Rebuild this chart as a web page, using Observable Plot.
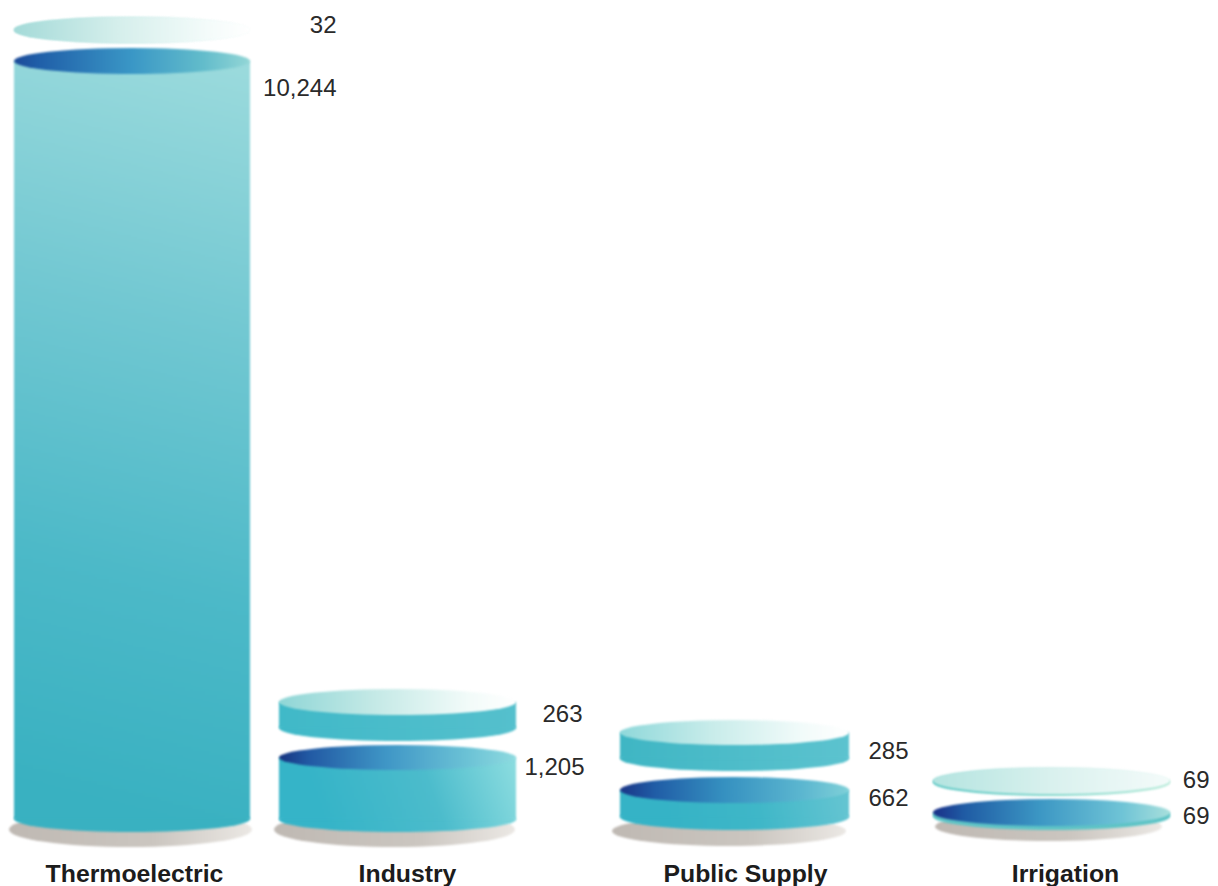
<!DOCTYPE html>
<html>
<head>
<meta charset="utf-8">
<script src="https://cdn.jsdelivr.net/npm/d3@7"></script>
<script src="https://cdn.jsdelivr.net/npm/@observablehq/plot@0.6"></script>
<style>
html,body{margin:0;padding:0;background:#fff}
svg{display:block}
</style>
</head>
<body>
<div id="chart"></div>
<script>
// Values printed on the chart
const categories = ["Thermoelectric", "Industry", "Public Supply", "Irrigation"];
const upperValues = [32, 263, 285, 69];
const lowerValues = [10244, 1205, 662, 69];

// Drawn extents (the original is not to scale)
const xLeft = [14, 279, 620, 933];
const xRight = [250, 516, 849, 1170];
const upperTop = [17, 689, 720, 767];
const upperBottom = [43, 741, 771, 796];
const upperCap = [26, 26, 25, 27];
const lowerTop = [48, 745, 777, 799];
const lowerBottom = [832, 832, 830, 830];
const lowerCap = [26, 25, 26, 27];
const shadowLeft = [9, 274, 612, 935];
const shadowRight = [252, 515, 846, 1162];
const shadowTop = [812, 812, 816, 812];
const shadowBottom = [847, 847, 846, 841];

// Label anchors
const categoryX = [134, 407, 745, 1065];
const categoryY = 874;
const upperLabelX = [336, 582, 908, 1209];
const upperLabelY = [25, 714, 751, 780];
const lowerLabelX = [336, 584, 908, 1209];
const lowerLabelY = [88, 767, 798, 816];

// Gradient stops
const paleStops = [
  [[0, "#a4dad8"], [0.45, "#d6efec"], [0.85, "#f6fcfb"], [1, "#ffffff"]],
  [[0, "#8fd6d6"], [0.4, "#c4e9e6"], [0.8, "#f2fbf9"], [1, "#ffffff"]],
  [[0, "#8fd8da"], [0.4, "#c8ecea"], [0.8, "#f2fbfa"], [1, "#ffffff"]],
  [[0, "#b4e4e0"], [0.5, "#d9f1ee"], [1, "#f4fbfa"]]
];
const lowerCapStops = [
  [[0, "#1c4a98"], [0.1, "#1f5ea8"], [0.5, "#3a97c6"], [0.8, "#62bccb"], [1, "#93d6d6"]],
  [[0, "#16337f"], [0.12, "#2158a3"], [0.45, "#3f96c6"], [0.8, "#6cc3d6"], [1, "#8edadf"]],
  [[0, "#1a3586"], [0.15, "#205ca6"], [0.45, "#3590c0"], [0.8, "#5cb7d0"], [1, "#7fd0d8"]],
  [[0, "#1a2f88"], [0.13, "#1f5ba4"], [0.45, "#3c97c4"], [0.8, "#6fc4d6"], [1, "#a8dfdc"]]
];
const lowerSideStops = [
  [[0, "#9cdbdd"], [0.35, "#72c8d2"], [0.7, "#4cb9c8"], [1, "#39b1c1"]],
  [[0, "#8ddde0"], [0.45, "#4cbccc"], [1, "#35b4c8"]],
  [[0, "#66c5d2"], [0.5, "#3fb7c8"], [1, "#35b3c6"]],
  [[0, "#5ec4c6"], [1, "#5ec4c6"]]
];
const upperSideStops = [
  [[0, "#9adad6"], [1, "#f8fdfc"]],
  [[0, "#40b9c8"], [1, "#55c0cd"]],
  [[0, "#3fb6c4"], [1, "#5cc3cf"]],
  [[0, "#5ec9c6"], [1, "#b4ead8"]]
];

const idx = d3.range(categories.length);

function defs() {
  const d = d3.create("svg:defs");
  const linear = (id, stops, attrs) => {
    const g = d.append("linearGradient").attr("id", id);
    Object.entries(attrs).forEach(([k, v]) => g.attr(k, v));
    stops.forEach(([o, c]) => g.append("stop").attr("offset", o).attr("stop-color", c));
  };
  const horiz = {x1: 0, y1: 0, x2: 1, y2: 0};
  idx.forEach((i) => {
    linear(`pale${i}`, paleStops[i], horiz);
    linear(`cap${i}`, lowerCapStops[i], horiz);
    // one shared gradient in page space, so the body and its rounded base join without a seam
    linear(`side${i}`, lowerSideStops[i], {
      gradientUnits: "userSpaceOnUse",
      x1: xRight[i], y1: lowerTop[i] + lowerCap[i] / 2,
      x2: xLeft[i] + (xRight[i] - xLeft[i]) * 0.2, y2: lowerBottom[i] - 30 * (i === 0 ? 1 : 0) - 6
    });
    linear(`uside${i}`, upperSideStops[i], {
      gradientUnits: "userSpaceOnUse",
      x1: xLeft[i], y1: 0, x2: xRight[i], y2: 0
    });
  });
  linear("shadow", [[0, "#bfb9b3"], [0.6, "#cbc6c0"], [1, "#ebe8e4"]], horiz);
  return d.node();
}

const soft = {imageFilter: "blur(0.9px)"};
const oval = (i, x1, x2, y1, y2, fill) =>
  Plot.rect([i], {x1: () => x1, x2: () => x2, y1: () => y1, y2: () => y2, fill, rx: "50%", ry: "50%", ...soft});
const band = (i, y1, y2, fill) =>
  Plot.rect([i], {x1: () => xLeft[i], x2: () => xRight[i], y1: () => y1, y2: () => y2, fill, ...soft});

const marks = [defs];
idx.forEach((i) => {
  // ground shadow
  marks.push(oval(i, shadowLeft[i], shadowRight[i], shadowTop[i], shadowBottom[i], "url(#shadow)"));
  // lower cylinder
  marks.push(oval(i, xLeft[i], xRight[i], lowerBottom[i] - lowerCap[i], lowerBottom[i], `url(#side${i})`));
  marks.push(band(i, lowerTop[i] + lowerCap[i] / 2, lowerBottom[i] - lowerCap[i] / 2, `url(#side${i})`));
  marks.push(oval(i, xLeft[i], xRight[i], lowerTop[i], lowerTop[i] + lowerCap[i], `url(#cap${i})`));
  // upper disk
  marks.push(oval(i, xLeft[i], xRight[i], upperBottom[i] - upperCap[i], upperBottom[i], `url(#uside${i})`));
  marks.push(band(i, upperTop[i] + upperCap[i] / 2, upperBottom[i] - upperCap[i] / 2, `url(#uside${i})`));
  marks.push(oval(i, xLeft[i], xRight[i], upperTop[i], upperTop[i] + upperCap[i], `url(#pale${i})`));
});

const fmt = d3.format(",");
const textStyle = {fontFamily: "'Liberation Sans', Arial, sans-serif", fontSize: 24, fill: "#2a2a2a", textAnchor: "end", lineAnchor: "middle"};
marks.push(
  Plot.text(idx, {x: (i) => upperLabelX[i], y: (i) => upperLabelY[i], text: (i) => fmt(upperValues[i]), ...textStyle}),
  Plot.text(idx, {x: (i) => lowerLabelX[i], y: (i) => lowerLabelY[i], text: (i) => fmt(lowerValues[i]), ...textStyle}),
  Plot.text(idx, {
    x: (i) => categoryX[i], y: () => categoryY, text: (i) => categories[i],
    fontFamily: "'Liberation Sans', Arial, sans-serif", fontSize: 24.8, fontWeight: 700, fill: "#1c1c1c",
    textAnchor: "middle", lineAnchor: "middle"
  })
);

const chart = Plot.plot({
  width: 1218,
  height: 886,
  margin: 0,
  x: {domain: [0, 1218], range: [0, 1218], axis: null},
  y: {domain: [0, 886], range: [0, 886], axis: null},
  style: {background: "#fff", overflow: "visible"},
  marks
});
document.getElementById("chart").appendChild(chart);
</script>
</body>
</html>
